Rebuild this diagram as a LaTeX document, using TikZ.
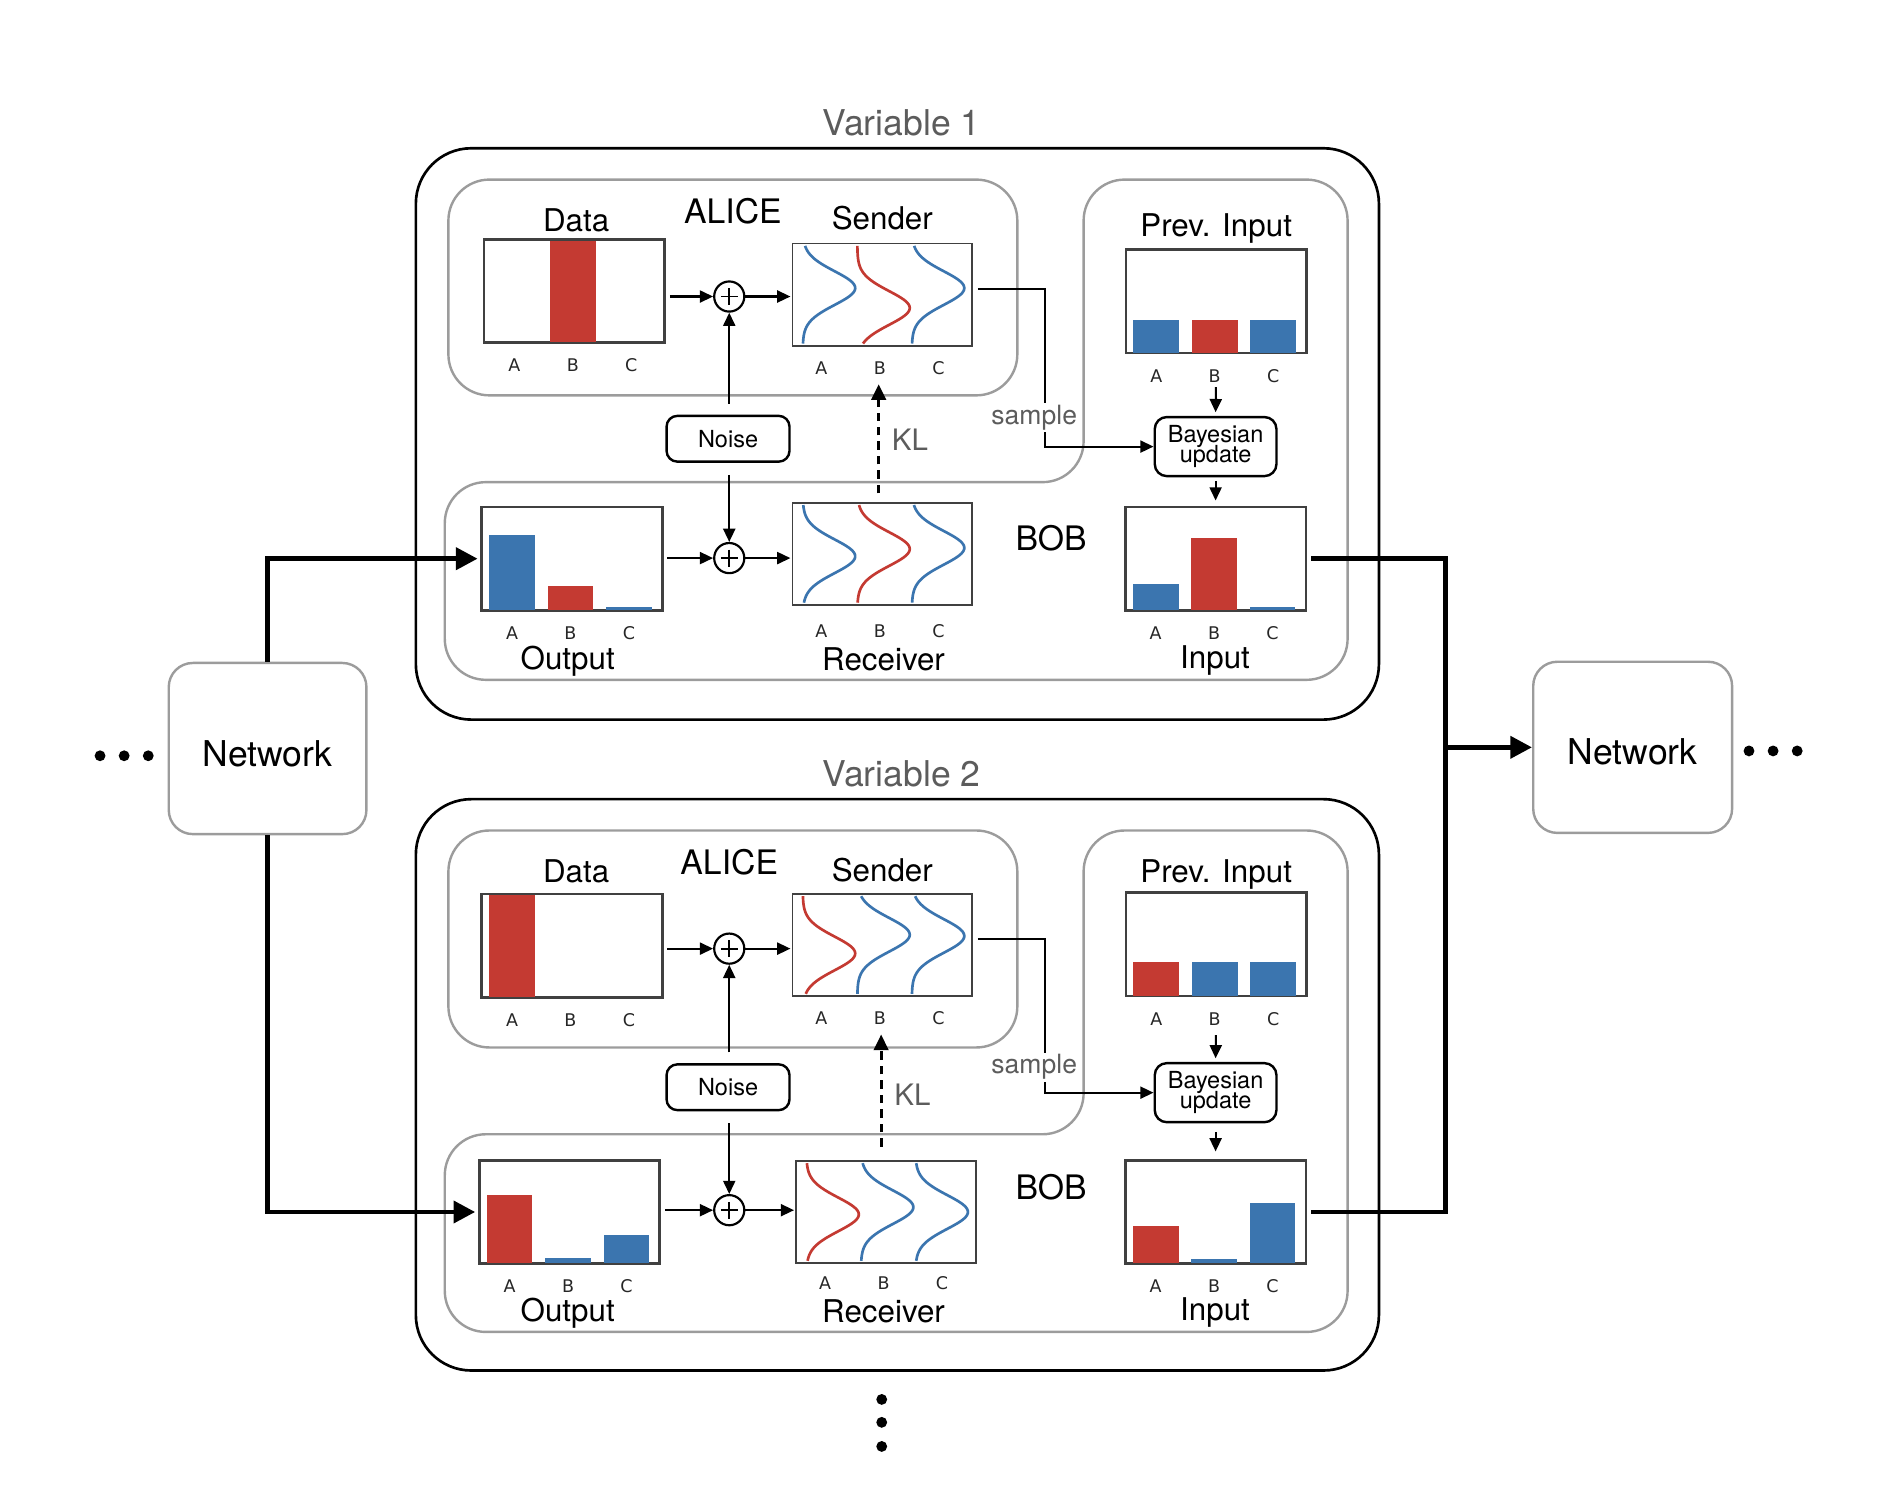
\documentclass[tikz,border=0pt]{standalone}
\usepackage{fontspec}
\setmainfont{TeX Gyre Heros}
\newfontfamily\tickfont{DejaVu Sans}
\usetikzlibrary{arrows.meta,calc}
\definecolor{barred}{HTML}{C43A32}
\definecolor{barblue}{HTML}{3B75AF}
\definecolor{boxgray}{HTML}{9C9C9C}
\definecolor{labgray}{HTML}{5C5C5C}
\definecolor{framec}{HTML}{404040}
\newcommand\tightlines{\lineskiplimit=-20pt\relax}
\tikzset{
  outerbox/.style={draw=black, line width=2.2pt, rounded corners=46pt},
  graybox/.style={draw=boxgray, line width=2pt, rounded corners=34pt},
  netbox/.style={draw=boxgray, line width=2pt, rounded corners=20pt, minimum width=164pt, minimum height=142pt, fill=white, font=\fontsize{29.5}{31}\selectfont, text height=29pt, text depth=0pt},
  chart/.style={draw=framec, line width=1.5pt, minimum width=149pt, minimum height=85pt, inner sep=0pt, fill=white},
  ticklab/.style={font=\tickfont\fontsize{14.5}{16}\selectfont, text=black!85, inner sep=0pt, text height=10.6pt, text depth=0pt},
  biglab/.style={font=\fontsize{28}{30}\selectfont, inner sep=0pt, text height=20.2pt, text depth=0pt},
  midlab/.style={font=\fontsize{26}{28}\selectfont, inner sep=0pt, text height=18.7pt, text depth=0pt},
  varlab/.style={font=\fontsize{29.5}{31}\selectfont, inner sep=0pt, text height=21.2pt, text depth=0pt, text=labgray},
  kllab/.style={font=\fontsize{24.5}{26}\selectfont, text=labgray, inner sep=0pt, text height=17.6pt, text depth=0pt},
  samplelab/.style={font=\fontsize{22}{24}\selectfont, text=labgray, fill=white, inner sep=1.5pt, anchor=base},
  plusnode/.style={circle, draw, line width=1.8pt, minimum size=25pt, inner sep=0pt, fill=white,
    path picture={\draw[line width=1.5pt] ([yshift=-5.5pt]path picture bounding box.north) -- ([yshift=5.5pt]path picture bounding box.south) ([xshift=5.5pt]path picture bounding box.west) -- ([xshift=-5.5pt]path picture bounding box.east);}},
  noisebox/.style={draw, line width=2pt, rounded corners=9pt, minimum width=102pt, minimum height=38pt, inner sep=0pt, font=\fontsize{19.5}{20}\selectfont},
  bayesbox/.style={draw, line width=2pt, rounded corners=10pt, minimum width=101pt, minimum height=49pt, inner sep=0pt, align=center, font=\fontsize{19.5}{16.8}\selectfont\tightlines},
  thinarrow/.style={line width=1.7pt, -{Triangle[length=11pt, width=10pt]}},
  klarrow/.style={line width=2.6pt, dash pattern=on 7pt off 5pt, -{Triangle[length=13pt, width=12pt]}},
  thickline/.style={line width=4pt},
  thickarrow/.style={line width=4pt, -{Triangle[length=18pt, width=18pt]}},
}
% bar chart: name, cx, cy, list colour/height/label
\newcommand\barchart[4]{%
  \node[chart] (#1) at (#2,#3) {};
  \foreach \c/\h/\l [count=\i] in {#4} {%
    \fill[\c] ($(#1.south west)+({6.5+48.5*(\i-1)},0)$) rectangle ++(38,-\h);
    \node[ticklab] (#1-t\i) at ($(#1.south west)+({25.5+48.5*(\i-1)},18.5)$) {\l};
  }%
  \draw[framec, line width=1.5pt] (#1.south west) rectangle (#1.north east);
}
% curve chart: [tick offset] name, cx, cy, list colour/peak offset/label
\newcommand\curvechart[5][18]{%
  \node[chart] (#2) at (#3,#4) {};
  \foreach \c/\m/\l [count=\i] in {#5} {%
    \draw[\c, line width=2.2pt] plot[variable=\t, domain=-40.5:40.5, samples=61, smooth]
      ({#3-74.5+8.5+45.25*(\i-1)+43.5*exp(-((\t-\m)*(\t-\m))/392)}, {#4+\t});
    \node[ticklab] (#2-t\i) at ({#3-74.5+24+48.5*(\i-1)}, {#4+42.5+#1}) {\l};
  }%
}
\begin{document}
\begin{tikzpicture}[x=1pt,y=-1pt]
\useasboundingbox (0,0) rectangle (1568,1236);

% ---------- containers, variable 1
\draw[graybox] (372,149) rectangle (844,328);
\draw[graybox] (700,564) -- (369,564) -- (369,400) -- (899,400) -- (899,149) -- (1118,149) -- (1118,564) -- cycle;
\draw[outerbox] (345,123) rectangle (1144,597);
% ---------- containers, variable 2
\draw[graybox] (372,689) rectangle (844,869);
\draw[graybox] (700,1105) -- (369,1105) -- (369,941) -- (899,941) -- (899,689) -- (1118,689) -- (1118,1105) -- cycle;
\draw[outerbox] (345,663) rectangle (1144,1137);

% ---------- network boxes
\node[netbox] (netL) at (222,621) {Network};
\node[netbox, minimum width=165pt] (netR) at (1354.5,620) {Network};
\foreach \x in {83,103,123} \fill (\x,627) circle (4.5pt);
\foreach \x in {1451,1471,1491} \fill (\x,623) circle (4.5pt);
\foreach \y in {1161,1180,1200} \fill (731.5,\y) circle (4.5pt);

% ================= VARIABLE 1
\node[varlab] (v1title) at (748,102) {Variable 1};
\node[biglab] (v1alice) at (608,175) {ALICE};
\node[midlab] (v1datalab) at (478,183) {Data};
\node[midlab] (v1sendlab) at (732,181) {Sender};
\node[midlab] (v1outlab) at (471,546) {Output};
\node[midlab] (v1recvlab) at (733,547) {Receiver};
\node[biglab] (v1bob) at (872,447) {BOB};
\node[midlab] (v1prevlab) at (1009,187) {Prev. Input};
\node[midlab] (v1inlab) at (1008,545) {Input};

\barchart{v1data}{476.5}{241.5}{barred/0/A, barred/85/B, barred/0/C}
\curvechart{v1send}{732}{244.5}{barblue/-5.5/A, barred/11/B, barblue/-5.5/C}
\barchart{v1out}{474.5}{463.5}{barblue/63/A, barred/21/B, barblue/3/C}
\curvechart[21.5]{v1recv}{732}{459.5}{barblue/2/A, barred/-4/B, barblue/-5/C}
\barchart{v1prev}{1009}{250}{barblue/28/A, barred/28/B, barblue/28/C}
\barchart{v1in}{1008.5}{463.5}{barblue/22/A, barred/60/B, barblue/3/C}

\node[plusnode] (v1plusA) at (605,246) {};
\node[plusnode] (v1plusB) at (605,463) {};
\node[noisebox] (v1noise) at (604,364) {Noise};
\node[bayesbox] (v1bayes) at (1008.5,370.5) {Bayesian\\update};

\draw[thinarrow, shorten <=4pt] (v1data.east |- v1plusA) -- (v1plusA.west);
\draw[thinarrow, shorten >=1pt] (v1plusA.east) -- (v1send.west |- v1plusA);
\draw[thinarrow, shorten <=9pt] (v1noise.north -| v1plusA) -- (v1plusA.south);
\draw[thinarrow, shorten <=10pt] (v1noise.south -| v1plusB) -- (v1plusB.north);
\draw[thinarrow, shorten <=4pt] (v1out.east |- v1plusB) -- (v1plusB.west);
\draw[thinarrow, shorten >=1pt] (v1plusB.east) -- (v1recv.west |- v1plusB);
\draw[klarrow, shorten <=7pt, shorten >=31pt] ([xshift=-3pt]v1recv.north) -- ([xshift=-3pt]v1send.south);
\node[kllab] (v1kl) at (755,365) {KL};
\draw[thinarrow] ([shift={(4,-4.5)}]v1send.east) -| ([xshift=-90pt]v1bayes.west) -- (v1bayes.west);
\node[samplelab] (v1sample) at (858,352) {sample};
\draw[thinarrow, shorten <=28pt, shorten >=3pt] (v1prev.south) -- (v1bayes.north);
\draw[thinarrow, shorten <=3pt, shorten >=5pt] (v1bayes.south) -- (v1in.north);

% ================= VARIABLE 2
\node[varlab] (v2title) at (748,642) {Variable 2};
\node[biglab] (v2alice) at (605,715) {ALICE};
\node[midlab] (v2datalab) at (478,723) {Data};
\node[midlab] (v2sendlab) at (732,722) {Sender};
\node[midlab] (v2outlab) at (471,1087) {Output};
\node[midlab] (v2recvlab) at (733,1088) {Receiver};
\node[biglab] (v2bob) at (872,985) {BOB};
\node[midlab] (v2prevlab) at (1009,723) {Prev. Input};
\node[midlab] (v2inlab) at (1008,1086) {Input};

\barchart{v2data}{474.5}{784.5}{barred/85/A, barred/0/B, barred/0/C}
\curvechart{v2send}{732}{784}{barred/7/A, barblue/-8.5/B, barblue/-7.5/C}
\barchart{v2out}{472.5}{1005.5}{barred/57/A, barblue/5/B, barblue/24/C}
\curvechart[16.5]{v2recv}{735}{1005.5}{barred/2/A, barblue/-4/B, barblue/0/C}
\barchart{v2prev}{1009}{783.5}{barred/29/A, barblue/29/B, barblue/29/C}
\barchart{v2in}{1008.5}{1005.5}{barred/32/A, barblue/4/B, barblue/51/C}

\node[plusnode] (v2plusA) at (605,787) {};
\node[plusnode] (v2plusB) at (605,1004) {};
\node[noisebox] (v2noise) at (604,902) {Noise};
\node[bayesbox] (v2bayes) at (1008.5,906.5) {Bayesian\\update};

\draw[thinarrow, shorten <=4pt] (v2data.east |- v2plusA) -- (v2plusA.west);
\draw[thinarrow, shorten >=1pt] (v2plusA.east) -- (v2send.west |- v2plusA);
\draw[thinarrow, shorten <=9pt] (v2noise.north -| v2plusA) -- (v2plusA.south);
\draw[thinarrow, shorten <=10pt] (v2noise.south -| v2plusB) -- (v2plusB.north);
\draw[thinarrow, shorten <=4pt] (v2out.east |- v2plusB) -- (v2plusB.west);
\draw[thinarrow, shorten >=1pt] (v2plusB.east) -- (v2recv.west |- v2plusB);
\draw[klarrow, shorten <=11pt, shorten >=31pt] ([xshift=-4pt]v2recv.north) -- ([xshift=-1pt]v2send.south);
\node[kllab] (v2kl) at (757,908) {KL};
\draw[thinarrow] ([shift={(4,-5)}]v2send.east) -| ([xshift=-90pt]v2bayes.west) -- (v2bayes.west);
\node[samplelab] (v2sample) at (858,891) {sample};
\draw[thinarrow, shorten <=32pt, shorten >=3pt] (v2prev.south) -- (v2bayes.north);
\draw[thinarrow, shorten <=7pt, shorten >=7pt] (v2bayes.south) -- (v2in.north);

% ================= network connectors
\draw[thickarrow, shorten >=3pt] (netL.north) |- (v1out.west);
\draw[thickarrow, shorten >=3pt] (netL.south) |- (v2out.west);
\coordinate (bus) at (1199,620);
\draw[thickline, shorten <=4pt, shorten >=4pt] (v1in.east) -| (bus) |- (v2in.east);
\draw[thickarrow] (bus) -- (netR.west);
\end{tikzpicture}
\end{document}
